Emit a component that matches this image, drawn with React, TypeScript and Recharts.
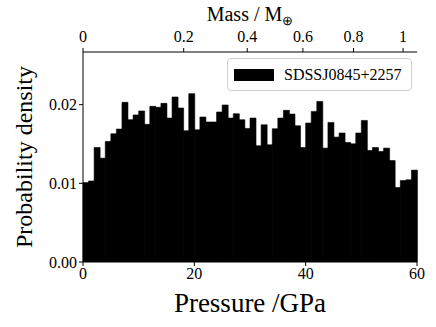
import React from 'react';
import { BarChart, Bar, XAxis, YAxis } from 'recharts';

const binStarts: number[] = Array.from({ length: 60 }, (_, i) => i);
const densities: number[] = [
  0.0101, 0.0103, 0.01456, 0.0132, 0.01533, 0.0163, 0.0169, 0.0203, 0.0181, 0.0187,
  0.0192, 0.0175, 0.01979, 0.01966, 0.02017, 0.0183, 0.02098, 0.01958, 0.01669, 0.0214,
  0.0168, 0.01843, 0.0178, 0.0178, 0.01907, 0.01996, 0.0183, 0.01885, 0.01809, 0.01698,
  0.0183, 0.01478, 0.01745, 0.0149, 0.01694, 0.0183, 0.01928, 0.01881, 0.01732, 0.01456,
  0.01767, 0.01915, 0.02042, 0.01448, 0.01775, 0.01588, 0.0164, 0.0152, 0.01503, 0.0164,
  0.018, 0.01418, 0.01456, 0.01405, 0.01448, 0.0129, 0.00947, 0.01036, 0.01045, 0.01168,
];
const pressureTicks: number[] = [0, 20, 40, 60];
const densityTicks: number[] = [0, 0.01, 0.02];
const massTickLabels: string[] = ['0', '0.2', '0.4', '0.6', '0.8', '1'];
const massTickPressures: number[] = [0, 18.09, 29.5, 39.5, 48.6, 57.5];
const seriesName = 'SDSSJ0845+2257';

const data = binStarts.map((b, i) => ({ bin: b, x: b + 0.5, density: densities[i] }));

const FONT = '"Liberation Serif", "Times New Roman", serif';
const tickStyle = { fill: '#000', fontSize: 16, style: { fontFamily: FONT } };

const MassLabel = (props: any) => {
  const vb = props.viewBox || {};
  const cx = vb.x + vb.width / 2;
  return (
    <text x={cx} y={21} textAnchor="middle" style={{ fontFamily: FONT, fontSize: 20 }} fill="#000">
      <tspan>Mass / M</tspan>
      <tspan style={{ fontSize: 13 }} dy={4}>⊕</tspan>
    </text>
  );
};

const LegendBox = () => (
  <div
    style={{
      position: 'absolute',
      left: 227,
      top: 58,
      border: '1px solid #d0d0d0',
      borderRadius: 4,
      background: 'rgba(255,255,255,0.85)',
      width: 185,
      height: 33,
      boxSizing: 'border-box',
      display: 'flex',
      alignItems: 'center',
      fontFamily: FONT,
      fontSize: 16,
      color: '#000',
      whiteSpace: 'nowrap',
    }}
  >
    <div style={{ width: 40, height: 12, background: '#000', marginLeft: 6, marginRight: 10, flexShrink: 0 }} />
    <span>{seriesName}</span>
  </div>
);

export default function App() {
  return (
    <div style={{ position: 'absolute', left: 0, top: 0, width: 436, height: 327, background: '#fff', fontFamily: FONT }}>
      <BarChart
        width={436}
        height={327}
        data={data}
        margin={{ top: 2, right: 19, bottom: 5, left: 3 }}
        barCategoryGap={0}
        barGap={0}
        style={{ fontFamily: FONT }}
      >
        <XAxis xAxisId="cat" dataKey="bin" hide height={0} />
        <XAxis
          xAxisId="num"
          dataKey="x"
          type="number"
          domain={[0, 60]}
          ticks={pressureTicks}
          allowDataOverflow
          height={60}
          tickSize={4}
          stroke="#000"
          tick={tickStyle}
          tickLine={{ stroke: '#000' }}
          axisLine={{ stroke: '#000', strokeWidth: 1 }}
          label={{
            value: 'Pressure /GPa',
            position: 'insideBottom',
            offset: 10,
            fill: '#000',
            style: { fontFamily: FONT, fontSize: 27 },
          }}
        />
        <XAxis
          xAxisId="top"
          orientation="top"
          dataKey="x"
          type="number"
          domain={[0, 60]}
          ticks={massTickPressures}
          tickFormatter={(v: number) => massTickLabels[massTickPressures.indexOf(v)] ?? ''}
          allowDataOverflow
          height={50}
          tickSize={4}
          tickMargin={6}
          stroke="#000"
          tick={tickStyle}
          tickLine={{ stroke: '#000' }}
          axisLine={{ stroke: '#000', strokeWidth: 1 }}
          label={<MassLabel />}
        />
        <YAxis
          yAxisId="left"
          domain={[0, 0.0267]}
          ticks={densityTicks}
          allowDataOverflow
          width={80}
          tickSize={4}
          tickFormatter={(v: number) => v.toFixed(2)}
          tick={tickStyle}
          tickLine={{ stroke: '#000' }}
          axisLine={{ stroke: '#000', strokeWidth: 1 }}
          label={{
            value: 'Probability density',
            angle: -90,
            position: 'insideLeft',
            offset: 20,
            fill: '#000',
            style: { textAnchor: 'middle', fontFamily: FONT, fontSize: 24 },
          }}
        />
        <YAxis
          yAxisId="right"
          orientation="right"
          width={0}
          tick={false}
          tickLine={false}
          axisLine={{ stroke: '#000', strokeWidth: 1 }}
          domain={[0, 1]}
        />
        <Bar
          xAxisId="cat"
          yAxisId="left"
          dataKey="density"
          name={seriesName}
          fill="#000"
          stroke="#000"
          strokeWidth={0.6}
          isAnimationActive={false}
        />
      </BarChart>
      <LegendBox />
    </div>
  );
}
